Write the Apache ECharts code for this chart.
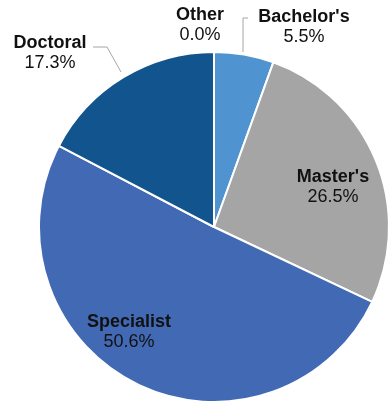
<!DOCTYPE html>
<html>
<head>
<meta charset="utf-8">
<script src="https://cdn.jsdelivr.net/npm/echarts@6/dist/echarts.min.js"></script>
<style>
  html, body { margin: 0; padding: 0; background: #fff; }
  #chart { width: 392px; height: 404px; }
</style>
</head>
<body>
<div id="chart"></div>
<script>
// Degree level shares (percent), clockwise from 12 o'clock
const categories = ["Bachelor's", "Master's", "Specialist", "Doctoral", "Other"];
const shares = [5.5, 26.5, 50.6, 17.3, 0.0];
const colors = ['#4F93D0', '#A5A5A5', '#4169B4', '#12558E', '#7F7F7F'];

// Label anchor points (block centres) and leader lines for each slice
const labelSpots = {
  "Bachelor's": { x: 304, y: 27, line: [[248, 18], [243, 18], [243, 52]] },
  "Master's":   { x: 333, y: 187 },
  "Specialist": { x: 129, y: 332 },
  "Doctoral":   { x: 50,  y: 53, line: [[93, 47], [107, 47], [121, 72]] },
  "Other":      { x: 200, y: 25 }
};

const chart = echarts.init(document.getElementById('chart'), null, { renderer: 'canvas' });

chart.setOption({
  animation: false,
  series: [{
    type: 'pie',
    center: [214, 227],
    radius: [0, 175],
    startAngle: 90,
    clockwise: true,
    minAngle: 0,
    avoidLabelOverlap: false,
    itemStyle: { borderColor: '#fff', borderWidth: 2 },
    data: categories.map((name, i) => ({
      name: name,
      value: shares[i],
      itemStyle: { color: colors[i] }
    })),
    label: {
      show: true,
      position: 'outside',
      formatter: p => '{n|' + p.name + '}\n{v|' + p.value.toFixed(1) + '%}',
      rich: {
        n: { fontFamily: 'Liberation Sans, Arial, sans-serif', fontWeight: 'bold', fontSize: 18, color: '#111', lineHeight: 20, align: 'center' },
        v: { fontFamily: 'Liberation Sans, Arial, sans-serif', fontSize: 18, color: '#111', lineHeight: 20, align: 'center' }
      }
    },
    labelLine: { show: true, lineStyle: { color: '#A6A6A6', width: 1 } },
    labelLayout: function (params) {
      const name = categories[params.dataIndex];
      const s = labelSpots[name];
      const out = { x: s.x, y: s.y, align: 'center', verticalAlign: 'middle' };
      out.labelLinePoints = s.line ? s.line : [[0, 0], [0, 0], [0, 0]];
      return out;
    }
  }]
});
</script>
</body>
</html>
